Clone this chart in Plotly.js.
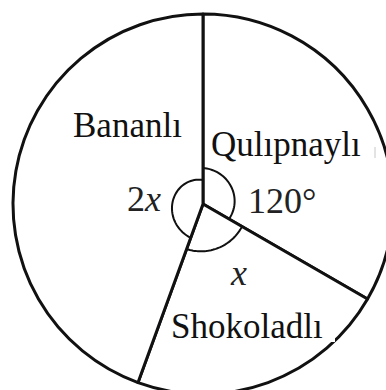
<!DOCTYPE html>
<html>
<head>
<meta charset="utf-8">
<script src="https://cdn.plot.ly/plotly-3.0.1.min.js"></script>
<style>
  html, body { margin: 0; padding: 0; overflow: hidden; background: #fff; }
  #chart { width: 400px; height: 400px; }
</style>
</head>
<body>
<div id="chart"></div>
<script>
// Ice-cream flavour shares (degrees of the circle)
const flavours = ['Qulıpnaylı', 'Shokoladlı', 'Bananlı'];
const degrees = [120, 80, 160];
const angleLabels = ['120°', '<i>x</i>', '2<i>x</i>'];

const W = 400, H = 400;
const CX = 203, CY = 204, R = 190;
const px = (x) => x / W;
const py = (y) => 1 - y / H;

// angle-marker arcs: start/end radius in px for each slice
const arcRadii = [[36, 30], [45, 48], [36, 24]];

function arcPath(a0, a1, r0, r1) {
  const steps = 40;
  let d = '';
  for (let i = 0; i <= steps; i++) {
    const t = i / steps;
    const a = (a0 + (a1 - a0) * t) * Math.PI / 180;
    const r = r0 + (r1 - r0) * t;
    const x = px(CX + r * Math.sin(a));
    const y = py(CY - r * Math.cos(a));
    d += (i === 0 ? 'M ' : ' L ') + x.toFixed(5) + ' ' + y.toFixed(5);
  }
  return d;
}

const shapes = [];
let acc = 0;
degrees.forEach((deg, i) => {
  shapes.push({
    type: 'path', xref: 'paper', yref: 'paper', layer: 'above',
    path: arcPath(acc, acc + deg, arcRadii[i][0], arcRadii[i][1]),
    line: { color: '#111', width: 2 }
  });
  acc += deg;
});
// white backing of the lower label where it overlaps the rim
shapes.push({
  type: 'rect', xref: 'paper', yref: 'paper', layer: 'above',
  x0: px(318), x1: px(335), y0: py(342), y1: py(318),
  fillcolor: '#fff', line: { width: 0 }
});
shapes.push({
  type: 'line', xref: 'paper', yref: 'paper', layer: 'above',
  x0: px(375), x1: px(375), y0: py(147), y1: py(158),
  line: { color: '#c8c8c8', width: 1 }
});

const labelPos = [[286, 144], [246.5, 326], [127.5, 126]];
const anglePos = [[281.7, 200.5], [238, 273], [144, 199]];

const annotations = [];
flavours.forEach((name, i) => {
  annotations.push({
    xref: 'paper', yref: 'paper', x: px(labelPos[i][0]), y: py(labelPos[i][1]),
    xanchor: 'center', yanchor: 'middle', showarrow: false, text: name,
    font: { family: 'Liberation Serif, serif', size: 35, color: '#111' }
  });
  annotations.push({
    xref: 'paper', yref: 'paper', x: px(anglePos[i][0]), y: py(anglePos[i][1]),
    xanchor: 'center', yanchor: 'middle', showarrow: false, text: angleLabels[i],
    font: { family: 'Liberation Serif, serif', size: 36, color: '#222' }
  });
});

const trace = {
  type: 'pie',
  labels: flavours,
  values: degrees,
  sort: false,
  direction: 'clockwise',
  rotation: 0,
  textinfo: 'none',
  hoverinfo: 'skip',
  showlegend: false,
  domain: { x: [px(CX - R), px(CX + R)], y: [py(CY + R), py(CY - R)] },
  marker: { colors: ['#fff', '#fff', '#fff'], line: { color: '#111', width: 3 } }
};

Plotly.newPlot('chart', [trace], {
  width: W, height: H,
  margin: { l: 0, r: 0, t: 0, b: 0, pad: 0 },
  paper_bgcolor: '#fff', plot_bgcolor: '#fff',
  shapes: shapes, annotations: annotations
}, { staticPlot: true });
</script>
</body>
</html>
